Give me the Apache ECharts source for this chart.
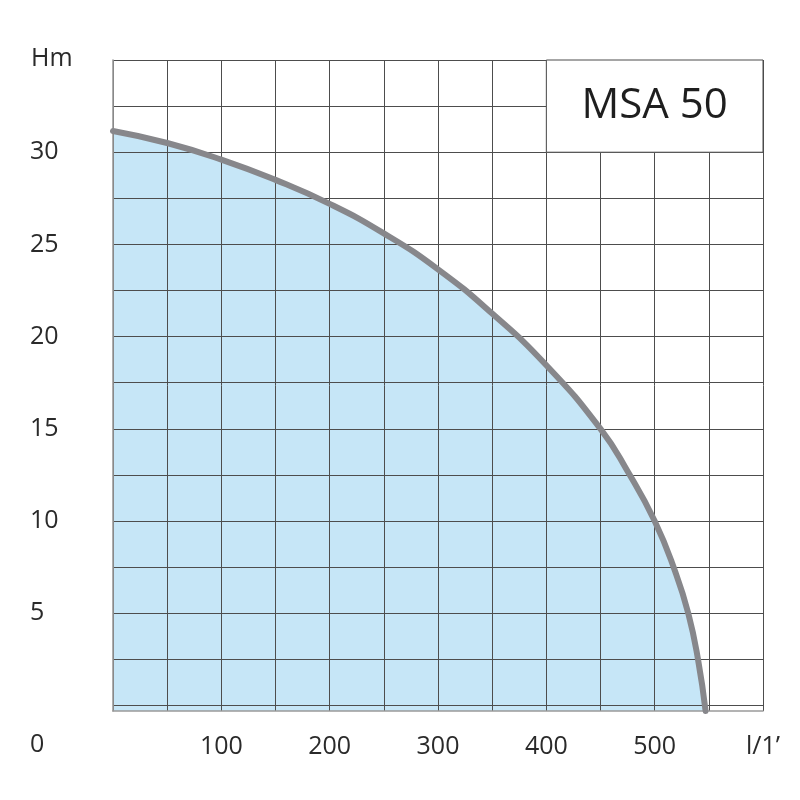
<!DOCTYPE html>
<html>
<head>
<meta charset="utf-8">
<script src="https://cdn.jsdelivr.net/npm/echarts@6/dist/echarts.min.js"></script>
<style>html,body{margin:0;padding:0;background:#fff}#c{width:800px;height:800px}</style>
</head>
<body>
<div id="c"></div>
<script>
// Data (flow l/1' vs head Hm)
const flow = [0, 50, 100, 150, 200, 250, 300, 350, 400, 450, 475, 500, 519, 531, 540, 547];
const head = [31.15, 30.5, 29.6, 28.5, 27.2, 25.6, 23.65, 21.25, 18.45, 15.0, 12.7, 10.0, 7.25, 5.0, 2.5, -0.3];
const xGridValues = [0, 50, 100, 150, 200, 250, 300, 350, 400, 450, 500, 550, 600];
const xLabelValues = [100, 200, 300, 400, 500, 600];
const xLabelTexts = ['100', '200', '300', '400', '500', 'l/1’'];
const yGridValues = [0, 2.5, 5, 7.5, 10, 12.5, 15, 17.5, 20, 22.5, 25, 27.5, 30, 32.5, 35];
const yLabelValues = [5, 10, 15, 20, 25, 30];
const yLabelTexts = ['5', '10', '15', '20', '25', '30'];
const modelName = 'MSA 50';
const boxCorners = [[400, 30], [600, 35]];

const FONT = '"Open Sans", "Noto Sans", sans-serif';
const chart = echarts.init(document.getElementById('c'), null, {renderer: 'canvas'});
const points = flow.map((x, i) => [x, head[i]]);

chart.setOption({
  animation: false,
  backgroundColor: '#ffffff',
  grid: {left: 113, right: 37, top: 60, bottom: 89, containLabel: false},
  xAxis: {
    type: 'value', min: 0, max: 600,
    axisLine: {show: true, onZero: false, lineStyle: {color: '#9a9a9a', width: 1.6}},
    axisTick: {show: false, customValues: xGridValues},
    splitLine: {show: true, lineStyle: {color: '#4d4d4d', width: 1}},
    axisLabel: {
      customValues: xLabelValues,
      formatter: v => xLabelTexts[xLabelValues.indexOf(v)] || '',
      color: '#2a2a2a', fontFamily: FONT, fontSize: 25, margin: 23
    }
  },
  yAxis: {
    type: 'value', min: -0.3, max: 35,
    axisLine: {show: true, lineStyle: {color: '#9a9a9a', width: 1.6}},
    axisTick: {show: false, customValues: yGridValues},
    splitLine: {show: true, lineStyle: {color: '#4d4d4d', width: 1}},
    axisLabel: {
      customValues: yLabelValues,
      formatter: v => yLabelTexts[yLabelValues.indexOf(v)] || '',
      color: '#2a2a2a', fontFamily: FONT, fontSize: 25,
      align: 'left', margin: 83, padding: [0, 0, 5, 0]
    }
  },
  graphic: [
    {type: 'text', left: 31, top: 46, style: {text: 'Hm', fill: '#2a2a2a', font: '25px ' + FONT}},
    {type: 'text', left: 30, top: 732, style: {text: '0', fill: '#2a2a2a', font: '25px ' + FONT}}
  ],
  series: [
    {
      type: 'line',
      data: points,
      smooth: 0.5,
      symbol: 'none',
      lineStyle: {width: 0, opacity: 0},
      areaStyle: {color: '#c6e6f7', opacity: 1, origin: 'start'},
      z: -1,
      silent: true
    },
    {
      type: 'line',
      data: points,
      smooth: 0.5,
      symbol: 'none',
      lineStyle: {color: '#87878b', width: 6, cap: 'round'},
      z: 3,
      markArea: {
        silent: true,
        itemStyle: {color: '#ffffff', borderColor: '#4d4d4d', borderWidth: 1},
        label: {show: true, position: 'inside', color: '#1e1e1e', fontFamily: FONT, fontSize: 42},
        data: [[{name: modelName, coord: boxCorners[0]}, {coord: boxCorners[1]}]]
      }
    }
  ]
});
</script>
</body>
</html>
